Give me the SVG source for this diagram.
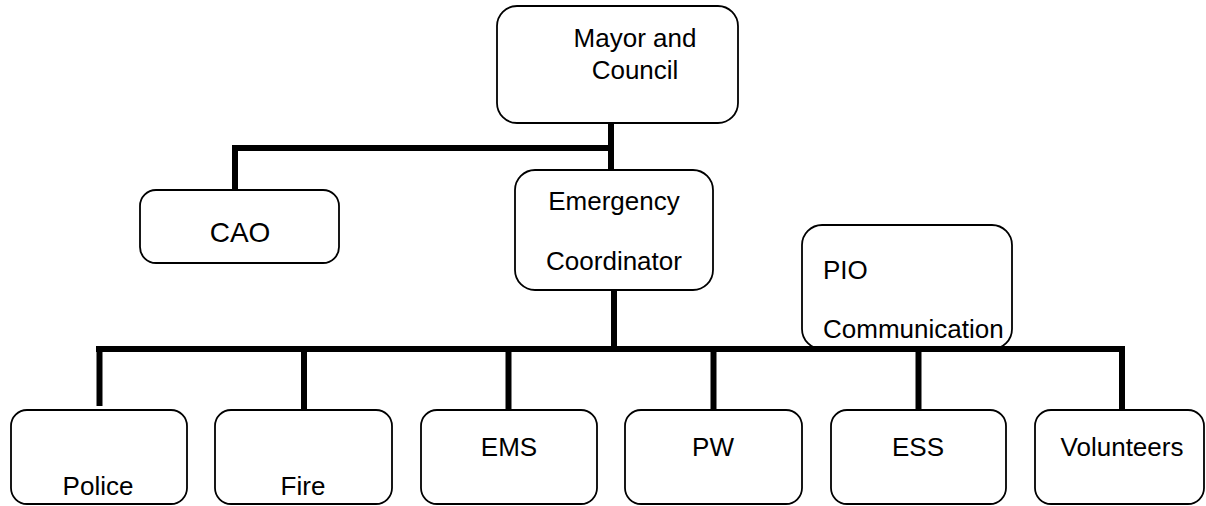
<svg xmlns="http://www.w3.org/2000/svg" width="1206" height="506" viewBox="0 0 1206 506">
<style>
.box{fill:#fff;stroke:#000;stroke-width:1.8}
.t{font-family:"Liberation Sans",Arial,sans-serif;font-size:26px;fill:#000}
.c{text-anchor:middle}
.con{stroke:#000;stroke-width:6;fill:none;stroke-linecap:butt}
</style>
<rect width="1206" height="506" fill="#fff"/>
<g id="mayor"><rect class="box" x="497" y="6" width="241" height="117" rx="20"/>
<text class="t c" x="635" y="47">Mayor and</text><text class="t c" x="635" y="79">Council</text></g>
<g id="cao"><rect class="box" x="140" y="190" width="199" height="73" rx="16"/>
<text class="t c" x="240" y="242" style="font-size:28px">CAO</text></g>
<g id="emergency"><rect class="box" x="515" y="170" width="198" height="120" rx="20"/>
<text class="t c" x="614" y="210">Emergency</text><text class="t c" x="614" y="270">Coordinator</text></g>
<g id="pio"><rect class="box" x="802" y="225" width="210" height="124" rx="20"/>
<text class="t" x="823" y="279">PIO</text><text class="t" x="823" y="338">Communication</text></g>
<g id="connectors">
<path class="con" d="M611,123V170"/>
<path class="con" d="M235,148H611"/>
<path class="con" d="M235,145V190"/>
<path class="con" d="M614,290V352"/>
<path class="con" d="M96,349H1125"/>
<path class="con" d="M99.5,346V406"/>
<path class="con" d="M304,346V410"/>
<path class="con" d="M508.5,346V410"/>
<path class="con" d="M713.5,346V410"/>
<path class="con" d="M918.5,346V410"/>
<path class="con" d="M1122,346V410"/>
</g>
<g id="police"><rect class="box" x="11" y="410" width="176" height="94" rx="16"/><text class="t c" x="98" y="495">Police</text></g>
<g id="fire"><rect class="box" x="215" y="410" width="177" height="94" rx="16"/><text class="t c" x="303" y="495">Fire</text></g>
<g id="ems"><rect class="box" x="421" y="410" width="176" height="94" rx="16"/><text class="t c" x="509" y="456">EMS</text></g>
<g id="pw"><rect class="box" x="625" y="410" width="177" height="94" rx="16"/><text class="t c" x="713" y="456">PW</text></g>
<g id="ess"><rect class="box" x="831" y="410" width="175" height="94" rx="16"/><text class="t c" x="918" y="456">ESS</text></g>
<g id="volunteers"><rect class="box" x="1035" y="410" width="169" height="94" rx="16"/><text class="t c" x="1122" y="456">Volunteers</text></g>
</svg>
